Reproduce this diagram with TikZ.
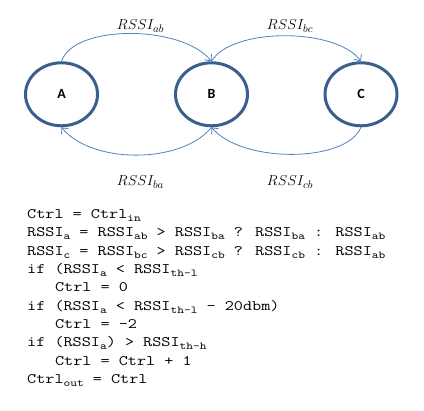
\documentclass[tikz,border=0pt]{standalone}
\usepackage{fontspec}
\usetikzlibrary{arrows.meta,shapes.geometric}
\newfontfamily\codefont[FakeStretch=1.22]{Latin Modern Mono}
\newfontfamily\labfont{Carlito}
\definecolor{nodeblue}{HTML}{3A5F8D}
\definecolor{arrowblue}{HTML}{4F81BD}
\newcommand\sbs[1]{\raisebox{-3pt}{\fontsize{10.5}{10.5}\selectfont #1}}
\begin{document}
\begin{tikzpicture}[x=1pt,y=-1pt,
  state/.style={ellipse, draw=nodeblue, line width=3pt, minimum width=72pt, minimum height=63pt, inner sep=0pt, font=\labfont\bfseries\fontsize{14}{14}\selectfont},
  link/.style={draw=arrowblue, line width=0.8pt, -{Straight Barb[length=5pt,width=9pt]}},
  rlab/.style={anchor=base, inner sep=0pt, font=\fontsize{15.5}{17}\selectfont},
  code/.style={anchor=base west, inner sep=0pt, font=\codefont\fontsize{14.5}{18}\selectfont}]
\useasboundingbox (0,0) rectangle (424,411);

\node[state] (A) at (61.5,94.3) {A};
\node[state] (B) at (211.5,94.3) {B};
\node[state] (C) at (361,94.3) {C};

\draw[link] (A.north) .. controls +(12,-37) and +(-30,-37) .. (B.north);
\draw[link] (B.north) .. controls +(20,-34) and +(-25,-34) .. (C.north);
\draw[link] (B.south) .. controls +(-30,37) and +(30,37) .. (A.south);
\draw[link] (C.south) .. controls +(-15,36) and +(30,36) .. (B.south);

\node[rlab] (lab) at (140.5,29.5) {$RSSI_{ab}$};
\node[rlab] (lbc) at (290,29.5) {$RSSI_{bc}$};
\node[rlab] (lba) at (140.5,185.5) {$RSSI_{ba}$};
\node[rlab] (lcb) at (290,185.5) {$RSSI_{cb}$};

\node[code] (c1) at (27,218.5) {Ctrl = Ctrl\sbs{in}};
\node[code] (c2) at (27,236.85) {RSSI\sbs{a} = RSSI\sbs{ab} > RSSI\sbs{ba} ? RSSI\sbs{ba} : RSSI\sbs{ab}};
\node[code] (c3) at (27,255.2) {RSSI\sbs{c} = RSSI\sbs{bc} > RSSI\sbs{cb} ? RSSI\sbs{cb} : RSSI\sbs{ab}};
\node[code] (c4) at (27,273.55) {if (RSSI\sbs{a} < RSSI\sbs{th-l}};
\node[code] (c5) at (54.9,291.9) {Ctrl = 0};
\node[code] (c6) at (27,310.25) {if (RSSI\sbs{a} < RSSI\sbs{th-l} - 20dbm)};
\node[code] (c7) at (54.9,328.6) {Ctrl = -2};
\node[code] (c8) at (27,346.95) {if (RSSI\sbs{a}) > RSSI\sbs{th-h}};
\node[code] (c9) at (54.9,365.3) {Ctrl = Ctrl + 1};
\node[code] (c10) at (27,383.65) {Ctrl\sbs{out} = Ctrl};
\end{tikzpicture}
\end{document}
